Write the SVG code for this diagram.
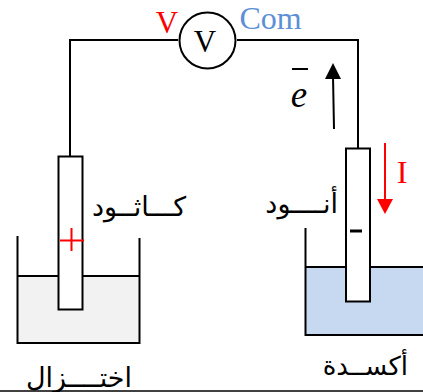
<svg xmlns="http://www.w3.org/2000/svg" width="423" height="392" viewBox="0 0 423 392">
<style>
.l{stroke:#000;stroke-width:2;fill:none}
.e{fill:#fff;stroke:#000;stroke-width:2}
.ar{font-family:"DejaVu Sans",sans-serif;font-size:27px;fill:#000;direction:rtl}
.se{font-family:"Liberation Serif",serif}
</style>
<g id="connectors">
<path class="l" d="M70 156V40H178M237 40H358V148"/>
<path d="M334 129L333 76" stroke="#000" stroke-width="2" fill="none"/>
<path d="M385 143V200" stroke="#f00" stroke-width="2" fill="none"/>
<path d="M333 63L341 79H325z" fill="#000"/>
<path d="M385 214L377 199H393z" fill="#f00"/>
</g>
<g id="voltmeter">
<circle class="e" cx="207.500" cy="40.500" r="28"/>
<text x="205" y="52" class="se" font-size="31" text-anchor="middle">V</text>
<text x="167" y="33" class="se" font-size="31" fill="#f00" text-anchor="middle">V</text>
<text x="270.500" y="29" class="se" font-size="32" fill="#5b8fd6" text-anchor="middle">Com</text>
</g>
<g id="electron"><path d="M292 69H308" stroke="#000" stroke-width="2"/>
<text x="299" y="107" class="se" font-size="37" font-style="italic" text-anchor="middle">e</text></g>
<text id="current" x="402" y="183" class="se" font-size="32" fill="#f00" text-anchor="middle">I</text>
<g id="cathode-cell">
<rect x="17" y="276" width="122" height="67" fill="#f2f2f2"/>
<path class="l" d="M17.500 236V343H139.500V238M17 276H139"/>
<rect class="e" x="58.500" y="156.500" width="24" height="153"/>
<path d="M60 240.500H84M71.500 228V251" stroke="#f00" stroke-width="2"/>
<text x="186" y="216" class="ar" text-anchor="start">كـــاثــود</text>
<text x="132" y="387" class="ar" text-anchor="start">اختــــزال</text>
</g>
<g id="anode-cell">
<rect x="305" y="267" width="118" height="68" fill="#c6d9f1"/>
<path class="l" d="M305.500 228V335H423M305 267H423"/>
<rect class="e" x="346" y="148.500" width="24" height="153"/>
<path d="M350 231H362" stroke="#000" stroke-width="3"/>
<text x="338" y="213" class="ar" text-anchor="start">أنــــود</text>
<text x="408" y="375" class="ar" font-size="26" style="font-size:26px" text-anchor="start">أكســدة</text>
</g>
<path id="baseline" d="M0 391H423" stroke="#000" stroke-width="1.500"/>
</svg>
